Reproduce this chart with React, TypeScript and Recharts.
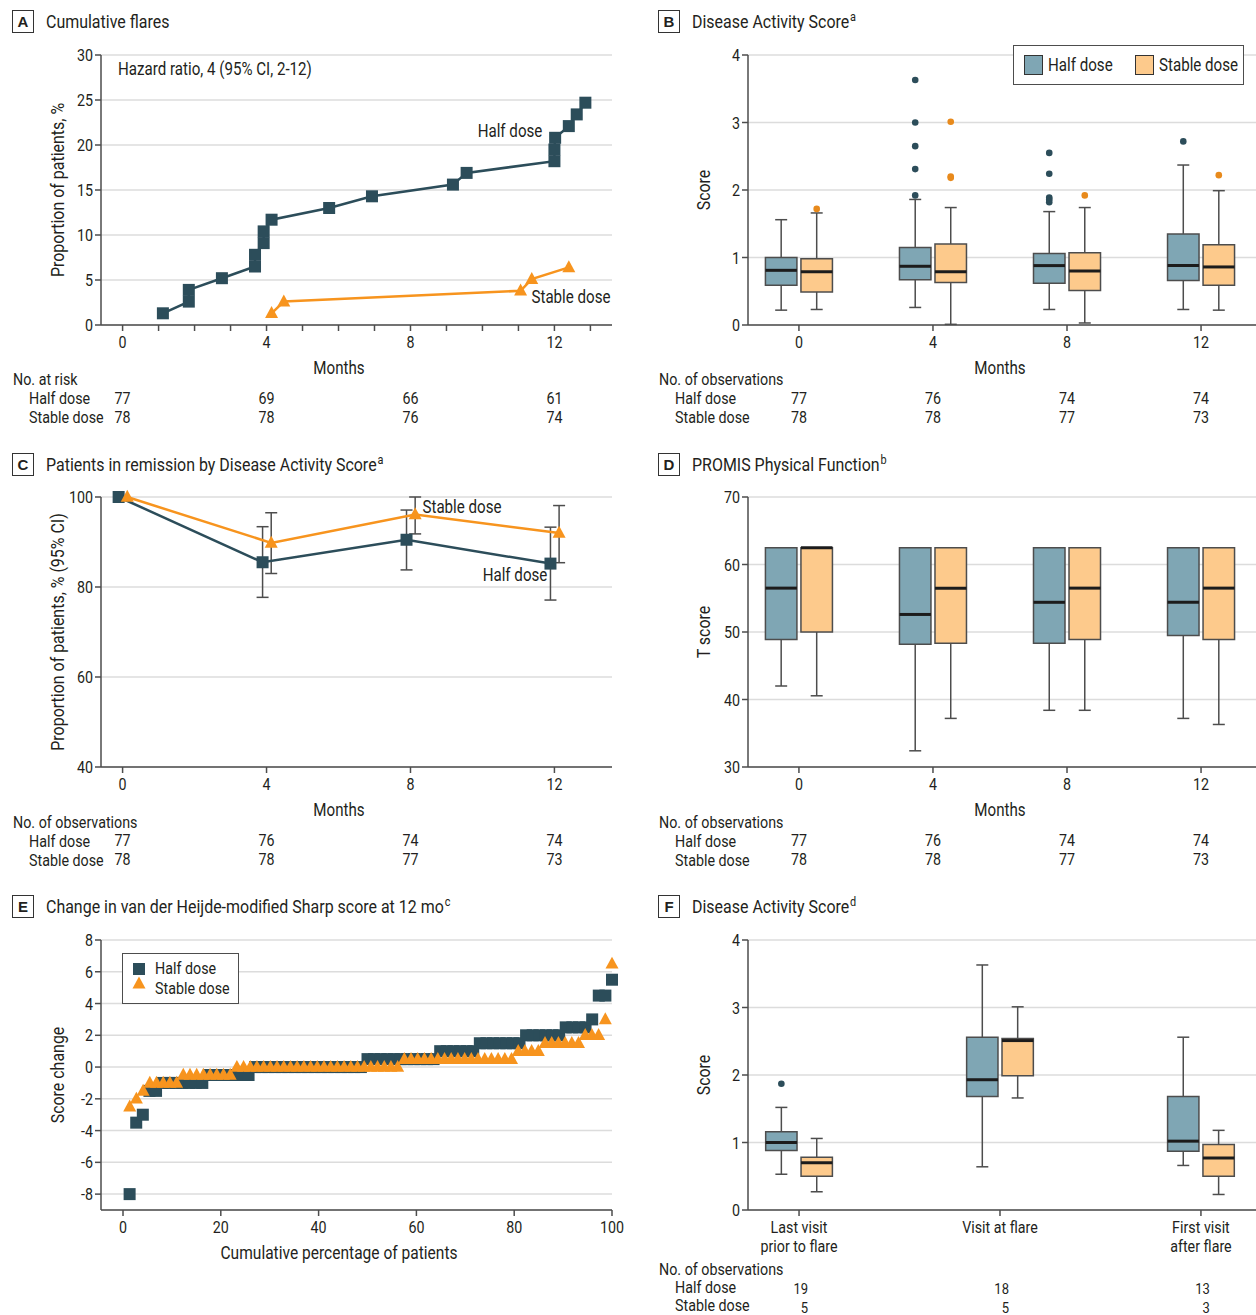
import React from 'react';
import {
  ComposedChart,
  Scatter,
  XAxis,
  YAxis,
  CartesianGrid,
  ReferenceArea,
  ReferenceLine,
  ErrorBar,
} from 'recharts';

const FONT = "Roboto, 'Noto Sans', 'DejaVu Sans', sans-serif";
const K = 0.84; // horizontal condensing of glyphs to mimic the condensed journal face
const TEXT = '#231f20';
const AXIS = '#4d4d4d';
const GRID = '#dcdcdc';
const HALF = '#2c4d5a';
const ORANGE = '#f7941e';
const HALF_BOX = '#7fa6b4';
const STABLE_BOX = '#fdca8c';
const STABLE_OUT = '#e88a1c';
const TICK_SIZE = 17;

// ---------- Panel A: cumulative flares ----------
const flareHalfMonths = [1.12, 1.84, 1.84, 2.76, 3.68, 3.68, 3.92, 3.92, 4.14, 5.74, 6.93, 9.18, 9.56, 12.0, 12.0, 12.02, 12.4, 12.62, 12.86];
const flareHalfPct = [1.3, 2.6, 3.9, 5.2, 6.5, 7.8, 9.1, 10.4, 11.7, 13.0, 14.3, 15.6, 16.9, 18.2, 19.5, 20.8, 22.1, 23.4, 24.7];
const flareStableMonths = [4.14, 4.48, 11.06, 11.37, 12.4];
const flareStablePct = [1.3, 2.6, 3.8, 5.1, 6.4];
const flareMonthTicks = [0, 1, 2, 3, 4, 5, 6, 7, 8, 9, 10, 11, 12, 13];
const flarePctTicks = [0, 5, 10, 15, 20, 25, 30];
const riskMonths = [0, 4, 8, 12];
const riskHalf = [77, 69, 66, 61];
const riskStable = [78, 78, 76, 74];

// ---------- Panel B: DAS boxplots ----------
const obsMonths = [0, 4, 8, 12];
const obsHalf = [77, 76, 74, 74];
const obsStable = [78, 78, 77, 73];
const dasTicks = [0, 1, 2, 3, 4];
const dasHalfMin = [0.22, 0.26, 0.23, 0.23];
const dasHalfQ1 = [0.59, 0.67, 0.62, 0.66];
const dasHalfMed = [0.81, 0.87, 0.88, 0.88];
const dasHalfQ3 = [1.0, 1.15, 1.06, 1.35];
const dasHalfMax = [1.56, 1.86, 1.68, 2.37];
const dasHalfOutliers = [[], [3.63, 3.0, 2.65, 2.31, 1.92], [2.55, 2.24, 1.89, 1.86, 1.82], [2.72]];
const dasStableMin = [0.23, 0.01, 0.03, 0.22];
const dasStableQ1 = [0.49, 0.63, 0.51, 0.59];
const dasStableMed = [0.79, 0.79, 0.8, 0.86];
const dasStableQ3 = [0.98, 1.2, 1.07, 1.19];
const dasStableMax = [1.66, 1.74, 1.74, 1.99];
const dasStableOutliers = [[1.72], [3.01, 2.2, 2.18], [1.92], [2.22]];

// ---------- Panel C: remission ----------
const remMonths = [0, 4, 8, 12];
const remHalf = [100, 85.5, 90.5, 85.2];
const remHalfLow = [100, 77.7, 83.8, 77.1];
const remHalfHigh = [100, 93.4, 97.1, 93.3];
const remStable = [100, 89.8, 96.1, 92.0];
const remStableLow = [100, 83.0, 91.8, 85.4];
const remStableHigh = [100, 96.5, 100, 98.1];
const remTicks = [40, 60, 80, 100];

// ---------- Panel D: PROMIS ----------
const promisTicks = [30, 40, 50, 60, 70];
const promisHalfMin = [42.0, 32.4, 38.4, 37.2];
const promisHalfQ1 = [48.9, 48.2, 48.35, 49.5];
const promisHalfMed = [56.5, 52.6, 54.4, 54.4];
const promisHalfQ3 = [62.5, 62.5, 62.5, 62.5];
const promisHalfMax = [62.5, 62.5, 62.5, 62.5];
const promisStableMin = [40.55, 37.2, 38.4, 36.3];
const promisStableQ1 = [50.0, 48.35, 48.9, 48.9];
const promisStableMed = [62.5, 56.5, 56.5, 56.5];
const promisStableQ3 = [62.5, 62.5, 62.5, 62.5];
const promisStableMax = [62.5, 62.5, 62.5, 62.5];

// ---------- Panel E: Sharp score change (sorted per patient) ----------
const sharpHalf = [
  -8, -3.5, -3, -1.5, -1.5,
  -1, -1, -1, -1, -1, -1, -1,
  -0.5, -0.5, -0.5, -0.5, -0.5, -0.5, -0.5,
  0, 0, 0, 0, 0, 0, 0, 0, 0, 0, 0, 0, 0, 0, 0, 0, 0,
  0.5, 0.5, 0.5, 0.5, 0.5, 0.5, 0.5, 0.5, 0.5, 0.5, 0.5,
  1, 1, 1, 1, 1, 1,
  1.5, 1.5, 1.5, 1.5, 1.5, 1.5, 1.5,
  2, 2, 2, 2, 2, 2,
  2.5, 2.5, 2.5, 2.5,
  3, 4.5, 4.5, 5.5,
];
const sharpStable = [
  -2.5, -2, -1.5,
  -1, -1, -1, -1, -1,
  -0.5, -0.5, -0.5, -0.5, -0.5, -0.5, -0.5, -0.5,
  0, 0, 0, 0, 0, 0, 0, 0, 0, 0, 0, 0, 0, 0, 0, 0, 0, 0, 0, 0, 0, 0, 0, 0, 0,
  0.5, 0.5, 0.5, 0.5, 0.5, 0.5, 0.5, 0.5, 0.5, 0.5, 0.5, 0.5, 0.5, 0.5, 0.5, 0.5, 0.5,
  1, 1, 1, 1,
  1.5, 1.5, 1.5, 1.5, 1.5, 1.5,
  2, 2, 2,
  3, 6.5,
];
const sharpXTicks = [0, 20, 40, 60, 80, 100];
const sharpYTicks = [-8, -6, -4, -2, 0, 2, 4, 6, 8];

// ---------- Panel F: DAS around flare ----------
const visitPos = [0, 1, 2];
const visitLabels = [['Last visit', 'prior to flare'], ['Visit at flare'], ['First visit', 'after flare']];
const visitObsHalf = [19, 18, 13];
const visitObsStable = [5, 5, 3];
const visitHalfMin = [0.53, 0.64, 0.66];
const visitHalfQ1 = [0.88, 1.68, 0.87];
const visitHalfMed = [1.0, 1.93, 1.02];
const visitHalfQ3 = [1.16, 2.56, 1.68];
const visitHalfMax = [1.52, 3.63, 2.56];
const visitHalfOutliers = [[1.87], [], []];
const visitStableMin = [0.27, 1.66, 0.23];
const visitStableQ1 = [0.5, 1.99, 0.5];
const visitStableMed = [0.7, 2.51, 0.77];
const visitStableQ3 = [0.78, 2.54, 0.97];
const visitStableMax = [1.06, 3.01, 1.18];

// ---------- helpers ----------
type Stats = { pos: number[]; min: number[]; q1: number[]; med: number[]; q3: number[]; max: number[] };

const textStyle = { fontFamily: FONT, fontSize: TICK_SIZE, fill: TEXT };
const axisLine = { stroke: AXIS, strokeWidth: 1.5 };

const SvgText = ({ x, y, anchor, children, dy, size }: any) => (
  <text
    transform={`translate(${x},${y}) scale(${K},1)`}
    x={0}
    y={0}
    dy={dy}
    textAnchor={anchor}
    {...textStyle}
    fontSize={size || TICK_SIZE}
  >
    {children}
  </text>
);

const YTick = (props: any) => {
  const { x, y, payload } = props;
  if (!payload) return <g />;
  return (
    <SvgText x={x} y={y} anchor="end" dy="0.36em">
      {payload.value}
    </SvgText>
  );
};

const XTick = (props: any) => {
  const { x, y, payload } = props;
  if (!payload) return <g />;
  return (
    <SvgText x={x} y={y + 15} anchor="middle">
      {payload.value}
    </SvgText>
  );
};

const squareShape = (size: number, color: string) => (p: any) =>
  p.cx == null ? <g /> : <rect x={p.cx - size / 2} y={p.cy - size / 2} width={size} height={size} fill={color} />;

const triangleShape = (size: number, color: string) => (p: any) => {
  if (p.cx == null) return <g />;
  const h = size * 0.92;
  return (
    <polygon
      points={`${p.cx},${p.cy - h * 0.6} ${p.cx - size / 2},${p.cy + h * 0.4} ${p.cx + size / 2},${p.cy + h * 0.4}`}
      fill={color}
    />
  );
};

const dotShape = (r: number, color: string) => (p: any) =>
  p.cx == null ? <g /> : <circle cx={p.cx} cy={p.cy} r={r} fill={color} />;

const capShape = (halfPx: number) => (p: any) =>
  p.cx == null ? <g /> : <line x1={p.cx - halfPx} x2={p.cx + halfPx} y1={p.cy} y2={p.cy} stroke={AXIS} strokeWidth={1.5} />;

const emptyShape = () => <g />;

function boxElements(id: string, s: Stats, offset: number, halfW: number, fill: string) {
  const els: React.ReactElement[] = [];
  s.pos.forEach((p, i) => {
    const c = p + offset;
    if (s.max[i] > s.q3[i]) {
      els.push(
        <ReferenceLine key={`${id}-wu${i}`} segment={[{ x: c, y: s.q3[i] }, { x: c, y: s.max[i] }]} stroke={AXIS} strokeWidth={1.5} />
      );
    }
    if (s.min[i] < s.q1[i]) {
      els.push(
        <ReferenceLine key={`${id}-wl${i}`} segment={[{ x: c, y: s.min[i] }, { x: c, y: s.q1[i] }]} stroke={AXIS} strokeWidth={1.5} />
      );
    }
    els.push(
      <ReferenceArea
        key={`${id}-box${i}`}
        x1={c - halfW}
        x2={c + halfW}
        y1={s.q1[i]}
        y2={s.q3[i]}
        fill={fill}
        fillOpacity={1}
        stroke={AXIS}
        strokeWidth={1.5}
      />
    );
    els.push(
      <ReferenceLine
        key={`${id}-med${i}`}
        segment={[{ x: c - halfW, y: s.med[i] }, { x: c + halfW, y: s.med[i] }]}
        stroke="#1c1c1c"
        strokeWidth={3}
      />
    );
  });
  return els;
}

function capData(s: Stats, offset: number) {
  const out: { x: number; y: number }[] = [];
  s.pos.forEach((p, i) => {
    if (s.max[i] > s.q3[i]) out.push({ x: p + offset, y: s.max[i] });
    if (s.min[i] < s.q1[i]) out.push({ x: p + offset, y: s.min[i] });
  });
  return out;
}

function outlierData(pos: number[], outliers: number[][], offset: number) {
  const out: { x: number; y: number }[] = [];
  pos.forEach((p, i) => outliers[i].forEach((v) => out.push({ x: p + offset, y: v })));
  return out;
}

const TableTick = (props: any) => {
  const { x, y, payload, labelled, labels, half, stable, endAlign } = props;
  const v = payload ? payload.value : undefined;
  const idx = labelled.indexOf(v);
  if (idx < 0) return <g />;
  const lines: string[] = labels ? labels[idx] : [String(v)];
  const numX = endAlign ? x + 9 : x;
  const anchor = endAlign ? 'end' : 'middle';
  const halfY = endAlign ? y + 76 : y + 71;
  const stableY = endAlign ? y + 94.5 : y + 90;
  const numSize = endAlign ? 15.5 : TICK_SIZE;
  return (
    <g>
      {lines.map((l, i) => (
        <SvgText key={i} x={x} y={y + 15 + i * 19} anchor="middle">
          {l}
        </SvgText>
      ))}
      {half && (
        <SvgText x={numX} y={halfY} anchor={anchor} size={numSize}>
          {half[idx]}
        </SvgText>
      )}
      {stable && (
        <SvgText x={numX} y={stableY} anchor={anchor} size={numSize}>
          {stable[idx]}
        </SvgText>
      )}
    </g>
  );
};

const Txt = ({ x, y, children, anchor = 'start', size = 17, weight = 400 }: any) => (
  <div
    style={{
      position: 'absolute',
      left: x,
      top: y,
      transformOrigin: anchor === 'middle' ? 'center center' : anchor === 'end' ? 'right center' : 'left center',
      transform: `translate(${anchor === 'middle' ? '-50%' : anchor === 'end' ? '-100%' : '0'}, -50%) scaleX(${K})`,
      fontSize: size,
      lineHeight: 1,
      whiteSpace: 'nowrap',
      fontWeight: weight,
    }}
  >
    {children}
  </div>
);

const VLabel = ({ x, y, children }: any) => (
  <div
    style={{
      position: 'absolute',
      left: x,
      top: y,
      transformOrigin: 'center center',
      transform: `translate(-50%, -50%) rotate(-90deg) scaleX(${K})`,
      fontSize: 19,
      lineHeight: 1,
      whiteSpace: 'nowrap',
    }}
  >
    {children}
  </div>
);

const PanelTitle = ({ x, y, letter, text, sup }: any) => (
  <>
    <div
      style={{
        position: 'absolute',
        left: x,
        top: y,
        width: 22,
        height: 23,
        boxSizing: 'border-box',
        border: '1.5px solid #333',
        display: 'flex',
        alignItems: 'center',
        justifyContent: 'center',
        fontWeight: 700,
        fontSize: 15,
        fontFamily: "'Liberation Sans', Arial, sans-serif",
      }}
    >
      {letter}
    </div>
    <Txt x={x + 34} y={y + 11} size={19}>
      {text}
      {sup && <span style={{ fontSize: 13, position: 'relative', top: -7, marginLeft: 1 }}>{sup}</span>}
    </Txt>
  </>
);

const TableLabels = ({ x, y, head, gap = 19 }: any) => (
  <>
    <Txt x={x} y={y}>{head}</Txt>
    <Txt x={x + 16} y={y + gap}>Half dose</Txt>
    <Txt x={x + 16} y={y + gap * 2}>Stable dose</Txt>
  </>
);

// ---------- derived series ----------
const flareHalfData = flareHalfMonths.map((m, i) => ({ x: m, y: flareHalfPct[i] }));
const flareStableData = flareStableMonths.map((m, i) => ({ x: m, y: flareStablePct[i] }));

const C_HALF_DODGE = -0.11;
const C_STABLE_DODGE = 0.13;
const remHalfData = remMonths.map((m, i) => ({ x: m + C_HALF_DODGE, y: remHalf[i] }));
const remStableData = remMonths.map((m, i) => ({ x: m + C_STABLE_DODGE, y: remStable[i] }));
const remHalfErr = remMonths
  .map((m, i) => ({ x: m + C_HALF_DODGE, y: remHalf[i], err: [remHalf[i] - remHalfLow[i], remHalfHigh[i] - remHalf[i]] }))
  .filter((d) => d.err[0] + d.err[1] > 0);
const remStableErr = remMonths
  .map((m, i) => ({ x: m + C_STABLE_DODGE, y: remStable[i], err: [remStable[i] - remStableLow[i], remStableHigh[i] - remStable[i]] }))
  .filter((d) => d.err[0] + d.err[1] > 0);

const sharpHalfData = sharpHalf.map((v, i) => ({ x: ((i + 1) / sharpHalf.length) * 100, y: v }));
const sharpStableData = sharpStable.map((v, i) => ({ x: ((i + 1) / sharpStable.length) * 100, y: v }));

const dasHalf: Stats = { pos: obsMonths, min: dasHalfMin, q1: dasHalfQ1, med: dasHalfMed, q3: dasHalfQ3, max: dasHalfMax };
const dasStable: Stats = { pos: obsMonths, min: dasStableMin, q1: dasStableQ1, med: dasStableMed, q3: dasStableQ3, max: dasStableMax };
const promisHalf: Stats = { pos: obsMonths, min: promisHalfMin, q1: promisHalfQ1, med: promisHalfMed, q3: promisHalfQ3, max: promisHalfMax };
const promisStable: Stats = { pos: obsMonths, min: promisStableMin, q1: promisStableQ1, med: promisStableMed, q3: promisStableQ3, max: promisStableMax };
const visitHalf: Stats = { pos: visitPos, min: visitHalfMin, q1: visitHalfQ1, med: visitHalfMed, q3: visitHalfQ3, max: visitHalfMax };
const visitStable: Stats = { pos: visitPos, min: visitStableMin, q1: visitStableQ1, med: visitStableMed, q3: visitStableQ3, max: visitStableMax };

// box geometry (data units)
const M_OFF = 0.53;
const M_HALFW = 0.47;
const V_OFF = 0.088;
const V_HALFW = 0.078;
const CAP_PX = 6;

const MONTH_DOMAIN_LEFT: [number, number] = [-0.6, 13.6];
const MONTH_DOMAIN_RIGHT: [number, number] = [-1.52, 13.64];

export default function App() {
  return (
    <div
      style={{
        position: 'absolute',
        left: 0,
        top: 0,
        width: 1256,
        height: 1315,
        background: '#fff',
        overflow: 'hidden',
        fontFamily: FONT,
        color: TEXT,
      }}
    >
      {/* ===== Panel A ===== */}
      <PanelTitle x={12} y={10} letter="A" text="Cumulative flares" />
      <div style={{ position: 'absolute', left: 40, top: 40 }}>
        <ComposedChart width={600} height={390} margin={{ top: 15, right: 28, bottom: 0, left: 0 }}>
          <CartesianGrid vertical={false} stroke={GRID} strokeWidth={1.5} />
          <XAxis
            type="number"
            dataKey="x"
            domain={MONTH_DOMAIN_LEFT}
            ticks={flareMonthTicks}
            interval={0}
            height={105}
            axisLine={axisLine}
            tickLine={axisLine}
            tick={(p: any) => <TableTick {...p} labelled={riskMonths} half={riskHalf} stable={riskStable} />}
          />
          <YAxis type="number" dataKey="y" domain={[0, 30]} ticks={flarePctTicks} interval={0} width={61} axisLine={axisLine} tickLine={axisLine} tick={YTick} />
          <Scatter data={flareHalfData} line={{ stroke: HALF, strokeWidth: 2.5 }} shape={squareShape(12, HALF)} isAnimationActive={false} />
          <Scatter data={flareStableData} line={{ stroke: ORANGE, strokeWidth: 2.5 }} shape={triangleShape(13, ORANGE)} isAnimationActive={false} />
        </ComposedChart>
      </div>
      <Txt x={118} y={69} size={18}>Hazard ratio, 4 (95% CI, 2-12)</Txt>
      <Txt x={510} y={131} anchor="middle" size={18}>Half dose</Txt>
      <Txt x={571} y={297} anchor="middle" size={18}>Stable dose</Txt>
      <VLabel x={57} y={190}>Proportion of patients, %</VLabel>
      <Txt x={339} y={368} anchor="middle" size={18}>Months</Txt>
      <TableLabels x={13} y={379} head="No. at risk" />

      {/* ===== Panel B ===== */}
      <PanelTitle x={658} y={10} letter="B" text="Disease Activity Score" sup="a" />
      <div style={{ position: 'absolute', left: 690, top: 40 }}>
        <ComposedChart width={566} height={390} margin={{ top: 15, right: 0, bottom: 0, left: 0 }}>
          <CartesianGrid vertical={false} stroke={GRID} strokeWidth={1.5} />
          <XAxis
            type="number"
            dataKey="x"
            domain={MONTH_DOMAIN_RIGHT}
            ticks={obsMonths}
            interval={0}
            height={105}
            axisLine={axisLine}
            tickLine={axisLine}
            tick={(p: any) => <TableTick {...p} labelled={obsMonths} half={obsHalf} stable={obsStable} />}
          />
          <YAxis type="number" dataKey="y" domain={[0, 4]} ticks={dasTicks} interval={0} width={58} axisLine={axisLine} tickLine={axisLine} tick={YTick} />
          {boxElements('bh', dasHalf, -M_OFF, M_HALFW, HALF_BOX)}
          {boxElements('bs', dasStable, M_OFF, M_HALFW, STABLE_BOX)}
          <Scatter data={capData(dasHalf, -M_OFF)} shape={capShape(CAP_PX)} isAnimationActive={false} />
          <Scatter data={capData(dasStable, M_OFF)} shape={capShape(CAP_PX)} isAnimationActive={false} />
          <Scatter data={outlierData(obsMonths, dasHalfOutliers, -M_OFF)} shape={dotShape(3.3, HALF)} isAnimationActive={false} />
          <Scatter data={outlierData(obsMonths, dasStableOutliers, M_OFF)} shape={dotShape(3.3, STABLE_OUT)} isAnimationActive={false} />
        </ComposedChart>
      </div>
      <div
        style={{
          position: 'absolute',
          left: 1013,
          top: 45,
          width: 231,
          height: 40,
          boxSizing: 'border-box',
          border: `1.5px solid ${AXIS}`,
          background: '#fff',
        }}
      >
        <div style={{ position: 'absolute', left: 10, top: 9, width: 19, height: 20, boxSizing: 'border-box', border: '1.5px solid #333', background: HALF_BOX }} />
        <div style={{ position: 'absolute', left: 121, top: 9, width: 19, height: 20, boxSizing: 'border-box', border: '1.5px solid #333', background: STABLE_BOX }} />
      </div>
      <Txt x={1048} y={65} size={18}>Half dose</Txt>
      <Txt x={1159} y={65} size={18}>Stable dose</Txt>
      <VLabel x={703} y={190}>Score</VLabel>
      <Txt x={1000} y={368} anchor="middle" size={18}>Months</Txt>
      <TableLabels x={659} y={379} head="No. of observations" />

      {/* ===== Panel C ===== */}
      <PanelTitle x={12} y={453} letter="C" text="Patients in remission by Disease Activity Score" sup="a" />
      <div style={{ position: 'absolute', left: 40, top: 482 }}>
        <ComposedChart width={600} height={390} margin={{ top: 15, right: 28, bottom: 0, left: 0 }}>
          <CartesianGrid vertical={false} stroke={GRID} strokeWidth={1.5} />
          <XAxis
            type="number"
            dataKey="x"
            domain={MONTH_DOMAIN_LEFT}
            ticks={remMonths}
            interval={0}
            height={105}
            axisLine={axisLine}
            tickLine={axisLine}
            tick={(p: any) => <TableTick {...p} labelled={remMonths} half={obsHalf} stable={obsStable} />}
          />
          <YAxis type="number" dataKey="y" domain={[40, 100]} ticks={remTicks} interval={0} width={61} axisLine={axisLine} tickLine={axisLine} tick={YTick} />
          <Scatter data={remHalfErr} shape={emptyShape} isAnimationActive={false}>
            <ErrorBar dataKey="err" direction="y" width={6} stroke={AXIS} strokeWidth={1.5} />
          </Scatter>
          <Scatter data={remStableErr} shape={emptyShape} isAnimationActive={false}>
            <ErrorBar dataKey="err" direction="y" width={6} stroke={AXIS} strokeWidth={1.5} />
          </Scatter>
          <Scatter data={remHalfData} line={{ stroke: HALF, strokeWidth: 2.5 }} shape={squareShape(12, HALF)} isAnimationActive={false} />
          <Scatter data={remStableData} line={{ stroke: ORANGE, strokeWidth: 2.5 }} shape={triangleShape(13, ORANGE)} isAnimationActive={false} />
        </ComposedChart>
      </div>
      <Txt x={462} y={507} anchor="middle" size={18}>Stable dose</Txt>
      <Txt x={515} y={575} anchor="middle" size={18}>Half dose</Txt>
      <VLabel x={57} y={632}>Proportion of patients, % (95% CI)</VLabel>
      <Txt x={339} y={810} anchor="middle" size={18}>Months</Txt>
      <TableLabels x={13} y={822} head="No. of observations" />

      {/* ===== Panel D ===== */}
      <PanelTitle x={658} y={453} letter="D" text="PROMIS Physical Function" sup="b" />
      <div style={{ position: 'absolute', left: 690, top: 482 }}>
        <ComposedChart width={566} height={390} margin={{ top: 15, right: 0, bottom: 0, left: 0 }}>
          <CartesianGrid vertical={false} stroke={GRID} strokeWidth={1.5} />
          <XAxis
            type="number"
            dataKey="x"
            domain={MONTH_DOMAIN_RIGHT}
            ticks={obsMonths}
            interval={0}
            height={105}
            axisLine={axisLine}
            tickLine={axisLine}
            tick={(p: any) => <TableTick {...p} labelled={obsMonths} half={obsHalf} stable={obsStable} />}
          />
          <YAxis type="number" dataKey="y" domain={[30, 70]} ticks={promisTicks} interval={0} width={58} axisLine={axisLine} tickLine={axisLine} tick={YTick} />
          {boxElements('dh', promisHalf, -M_OFF, M_HALFW, HALF_BOX)}
          {boxElements('ds', promisStable, M_OFF, M_HALFW, STABLE_BOX)}
          <Scatter data={capData(promisHalf, -M_OFF)} shape={capShape(CAP_PX)} isAnimationActive={false} />
          <Scatter data={capData(promisStable, M_OFF)} shape={capShape(CAP_PX)} isAnimationActive={false} />
        </ComposedChart>
      </div>
      <VLabel x={703} y={632}>T score</VLabel>
      <Txt x={1000} y={810} anchor="middle" size={18}>Months</Txt>
      <TableLabels x={659} y={822} head="No. of observations" />

      {/* ===== Panel E ===== */}
      <PanelTitle x={12} y={895} letter="E" text="Change in van der Heijde-modified Sharp score at 12 mo" sup="c" />
      <div style={{ position: 'absolute', left: 40, top: 925 }}>
        <ComposedChart width={600} height={330} margin={{ top: 15, right: 28, bottom: 0, left: 0 }}>
          <CartesianGrid vertical={false} stroke={GRID} strokeWidth={1.5} />
          <XAxis
            type="number"
            dataKey="x"
            domain={[-4.5, 100]}
            ticks={sharpXTicks}
            interval={0}
            height={45}
            axisLine={axisLine}
            tickLine={axisLine}
            tick={XTick}
          />
          <YAxis type="number" dataKey="y" domain={[-9, 8]} ticks={sharpYTicks} interval={0} width={61} axisLine={axisLine} tickLine={axisLine} tick={YTick} />
          <Scatter data={sharpHalfData} shape={squareShape(12, HALF)} isAnimationActive={false} />
          <Scatter data={sharpStableData} shape={triangleShape(13, ORANGE)} isAnimationActive={false} />
        </ComposedChart>
      </div>
      <div
        style={{
          position: 'absolute',
          left: 122,
          top: 953,
          width: 117,
          height: 51,
          boxSizing: 'border-box',
          border: `1.5px solid ${AXIS}`,
          background: '#fff',
        }}
      >
        <svg style={{ position: 'absolute', left: 0, top: 0 }} width={40} height={50}>
          <rect x={10} y={9} width={12} height={12} fill={HALF} />
          <polygon points="16,22.5 9.5,34.5 22.5,34.5" fill={ORANGE} />
        </svg>
      </div>
      <Txt x={155} y={968}>Half dose</Txt>
      <Txt x={155} y={988}>Stable dose</Txt>
      <VLabel x={57} y={1075}>Score change</VLabel>
      <Txt x={339} y={1253} anchor="middle" size={18.5}>Cumulative percentage of patients</Txt>

      {/* ===== Panel F ===== */}
      <PanelTitle x={658} y={895} letter="F" text="Disease Activity Score" sup="d" />
      <div style={{ position: 'absolute', left: 690, top: 925 }}>
        <ComposedChart width={566} height={390} margin={{ top: 15, right: 0, bottom: 0, left: 0 }}>
          <CartesianGrid vertical={false} stroke={GRID} strokeWidth={1.5} />
          <XAxis
            type="number"
            dataKey="x"
            domain={[-0.254, 2.274]}
            ticks={visitPos}
            interval={0}
            height={105}
            axisLine={axisLine}
            tickLine={axisLine}
            tick={(p: any) => (
              <TableTick {...p} labelled={visitPos} labels={visitLabels} half={visitObsHalf} stable={visitObsStable} endAlign />
            )}
          />
          <YAxis type="number" dataKey="y" domain={[0, 4]} ticks={dasTicks} interval={0} width={58} axisLine={axisLine} tickLine={axisLine} tick={YTick} />
          {boxElements('fh', visitHalf, -V_OFF, V_HALFW, HALF_BOX)}
          {boxElements('fs', visitStable, V_OFF, V_HALFW, STABLE_BOX)}
          <Scatter data={capData(visitHalf, -V_OFF)} shape={capShape(CAP_PX)} isAnimationActive={false} />
          <Scatter data={capData(visitStable, V_OFF)} shape={capShape(CAP_PX)} isAnimationActive={false} />
          <Scatter data={outlierData(visitPos, visitHalfOutliers, -V_OFF)} shape={dotShape(3.3, HALF)} isAnimationActive={false} />
        </ComposedChart>
      </div>
      <VLabel x={703} y={1075}>Score</VLabel>
      <TableLabels x={659} y={1269} head="No. of observations" gap={18} />
    </div>
  );
}
